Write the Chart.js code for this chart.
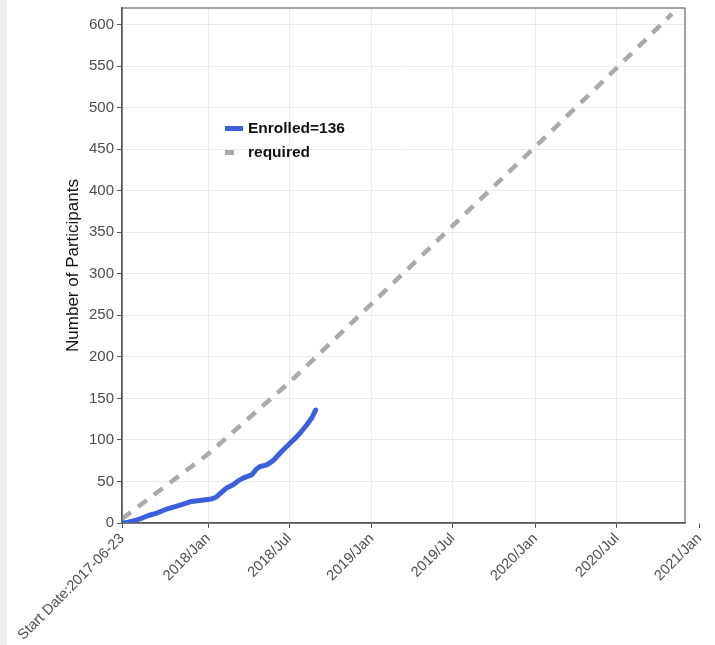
<!DOCTYPE html>
<html>
<head>
<meta charset="utf-8">
<script src="https://cdn.jsdelivr.net/npm/chart.js@4"></script>
<style>
  body { margin: 0; background: linear-gradient(to right, #efefef 0, #efefef 7px, #fff 7px); }
  #wrap { position: relative; width: 715px; height: 645px; }
  #legend { position: absolute; left: 225px; top: 116px; font: bold 15.5px "Liberation Sans", Arial, sans-serif; color: #111; }
  #legend div { height: 24px; display: flex; align-items: center; }
  #legend span.key { display: inline-block; width: 18px; height: 5px; margin-right: 5px; }
</style>
</head>
<body>
<div id="wrap">
  <canvas id="enroll" width="715" height="645"></canvas>
  <div id="legend"></div>
</div>
<script>
  const startDate = '2017-06-23';
  const endDate = '2020-11-30';

  const enrolledDates = ['2017-06-23', '2017-07-07', '2017-07-22', '2017-08-07', '2017-08-21', '2017-09-09',
    '2017-09-27', '2017-10-16', '2017-11-03', '2017-11-25', '2017-12-18', '2018-01-09', '2018-01-19',
    '2018-01-27', '2018-02-11', '2018-02-26', '2018-03-10', '2018-03-20', '2018-04-08', '2018-04-13',
    '2018-04-19', '2018-04-27', '2018-05-12', '2018-05-26', '2018-06-14', '2018-07-03', '2018-07-18',
    '2018-07-25', '2018-08-09', '2018-08-21', '2018-08-29'];
  const enrolledCounts = [0, 1, 3, 6, 9, 12, 16, 19, 22, 26, 27.5, 29, 31, 35, 42, 46, 51, 54, 58, 61,
    65, 68, 70, 75, 86, 96, 104, 108, 118, 127, 136];

  const requiredDates = ['2017-06-23', '2018-01-01', '2018-07-01', '2019-01-01', '2019-07-01',
    '2020-01-01', '2020-07-01', '2020-11-01'];
  const requiredCounts = [5, 83, 169, 264, 358, 453, 548, 613];

  const tickDates = ['2017-06-23', '2018-01-01', '2018-07-01', '2019-01-01', '2019-07-01',
    '2020-01-01', '2020-07-01', '2021-01-01'];
  const tickLabels = ['Start Date:2017-06-23', '2018/Jan', '2018/Jul', '2019/Jan', '2019/Jul',
    '2020/Jan', '2020/Jul', '2021/Jan'];

  const yMax = 620;
  const yStep = 50;

  const enrolledLabel = 'Enrolled=136';
  const requiredLabel = 'required';

  const dayOf = s => (Date.parse(s) - Date.parse(startDate)) / 86400000;
  const xMax = dayOf(endDate);
  const toPoints = (dates, vals) => dates.map((d, i) => ({ x: dayOf(d), y: vals[i] }));

  const blue = '#3c60dd';
  const grey = '#aaaaaa';
  const font = '"Liberation Sans", Arial, sans-serif';

  const frame = {
    id: 'frame',
    afterDraw(chart) {
      const { ctx, chartArea: a } = chart;
      ctx.save();
      ctx.strokeStyle = '#666';
      ctx.lineWidth = 1.2;
      ctx.strokeRect(a.left, a.top, a.right - a.left, a.bottom - a.top);
      ctx.restore();
    }
  };

  const outside = ctx => ctx.tick && ctx.tick.value > xMax;

  const chart = new Chart(document.querySelector('#enroll'), {
    type: 'line',
    data: {
      datasets: [{
        label: enrolledLabel,
        data: toPoints(enrolledDates, enrolledCounts),
        borderColor: blue,
        borderWidth: 5,
        borderCapStyle: 'round',
        borderJoinStyle: 'round',
        pointRadius: 0,
        tension: 0
      }, {
        label: requiredLabel,
        data: toPoints(requiredDates, requiredCounts),
        borderColor: grey,
        borderWidth: 4.5,
        borderDash: [11, 9],
        pointRadius: 0,
        tension: 0
      }]
    },
    options: {
      responsive: false,
      animation: false,
      layout: { padding: { top: 8, right: 30, bottom: 0, left: 0 } },
      plugins: { legend: { display: false }, tooltip: { enabled: false } },
      scales: {
        x: {
          type: 'linear',
          min: 0,
          max: xMax,
          afterBuildTicks(s) { s.ticks = tickDates.map(d => ({ value: dayOf(d) })); },
          afterFit(s) { s.height = 122; },
          ticks: {
            autoSkip: false,
            maxRotation: 45,
            minRotation: 45,
            padding: 2,
            color: '#4d4d4d',
            font: { family: font, size: 14.5 },
            callback: (v, i) => tickLabels[i]
          },
          grid: {
            color: c => outside(c) ? 'rgba(0,0,0,0)' : '#ebebeb',
            tickColor: '#555',
            tickLength: 5
          },
          border: { color: '#444', width: 1.5 }
        },
        y: {
          min: 0,
          max: yMax,
          afterFit(s) { s.width = 122; s.paddingTop = 0; s.paddingBottom = 0; },
          ticks: {
            stepSize: yStep,
            includeBounds: false,
            padding: 3,
            color: '#4d4d4d',
            font: { family: font, size: 15 }
          },
          grid: { color: '#ebebeb', tickColor: '#555', tickLength: 5 },
          border: { color: '#444', width: 1.5 },
          title: {
            display: true,
            text: 'Number of Participants',
            color: '#111',
            font: { family: font, size: 17 },
            padding: { top: 63, bottom: 0 }
          }
        }
      }
    },
    plugins: [frame]
  });

  // legend drawn as html, from the datasets
  const legend = document.querySelector('#legend');
  chart.data.datasets.forEach(ds => {
    const row = document.createElement('div');
    const key = document.createElement('span');
    key.className = 'key';
    key.style.background = ds.borderColor;
    if (ds.borderDash) key.style.width = '9px', key.style.marginRight = '14px';
    row.appendChild(key);
    row.appendChild(document.createTextNode(ds.label));
    legend.appendChild(row);
  });
</script>
</body>
</html>
